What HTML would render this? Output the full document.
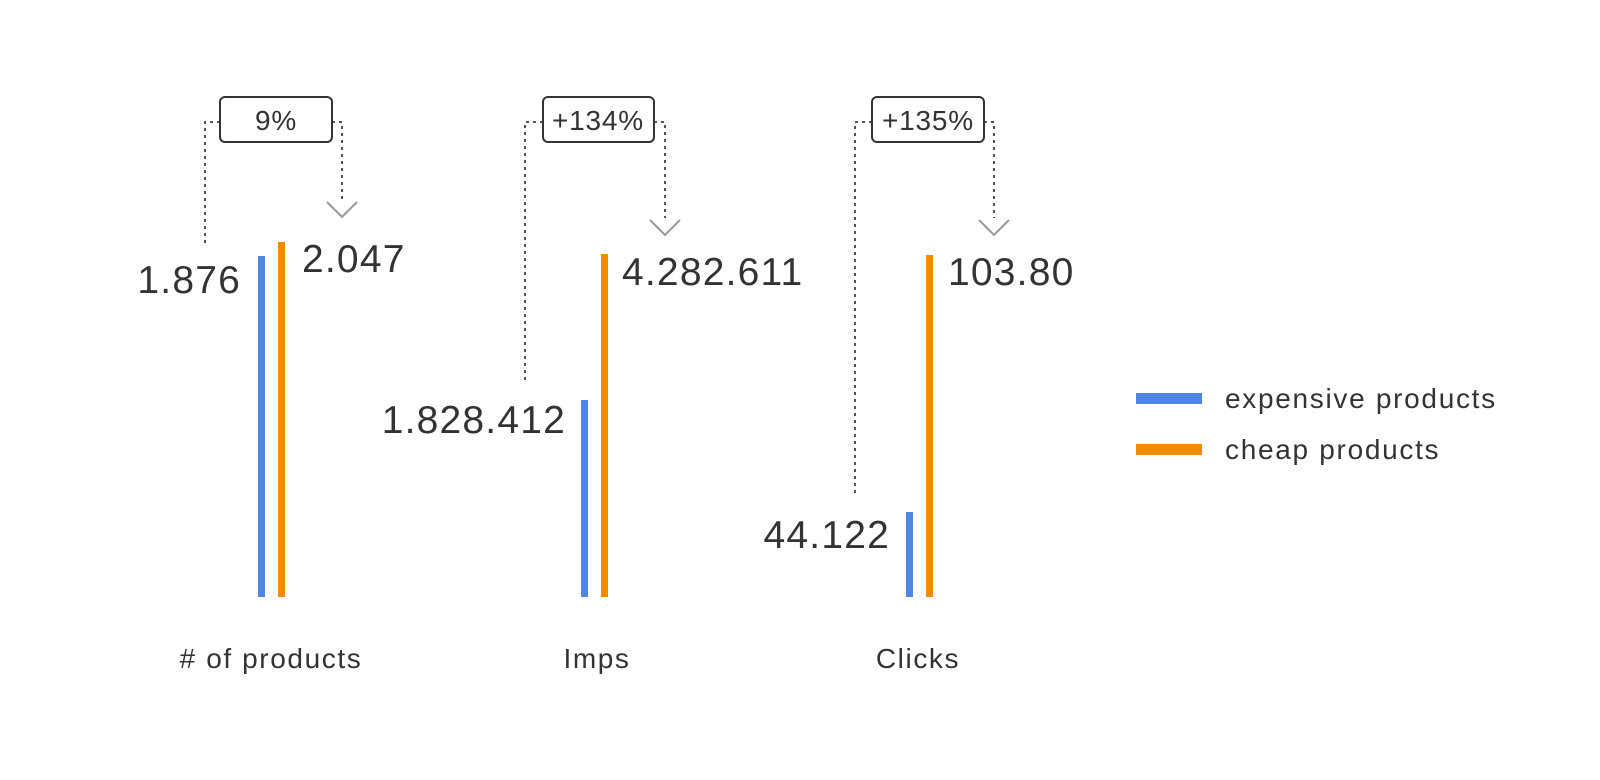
<!DOCTYPE html>
<html><head><meta charset="utf-8"><style>
html,body{margin:0;padding:0;background:#fff;}
svg{display:block;}
text{font-family:"Liberation Sans",sans-serif;fill:#333;}
</style></head><body>
<svg width="1600" height="780" viewBox="0 0 1600 780" xmlns="http://www.w3.org/2000/svg">
<g stroke="#555" stroke-width="2" fill="none" stroke-dasharray="3 4">
  <polyline points="220,122 205,122 205,247"/>
  <polyline points="332,122 342,122 342,200"/>
  <polyline points="543,122 525,122 525,380"/>
  <polyline points="654,122 665,122 665,218"/>
  <polyline points="872,122 855,122 855,497"/>
  <polyline points="984,122 994,122 994,218"/>
</g>
<g stroke="#999" stroke-width="2" fill="none">
  <polyline points="327,202 342,217 357,202"/>
  <polyline points="650,220 665,235 680,220"/>
  <polyline points="979,220 994,235 1009,220"/>
</g>
<g stroke="#333" stroke-width="2" fill="#fff">
  <rect x="220" y="97" width="112" height="45" rx="5"/>
  <rect x="543" y="97" width="111" height="45" rx="5"/>
  <rect x="872" y="97" width="112" height="45" rx="5"/>
</g>
<g font-size="28" text-anchor="middle" letter-spacing="0.8">
  <text x="276" y="130">9%</text>
  <text x="598" y="130">+134%</text>
  <text x="928" y="130">+135%</text>
</g>
<g>
  <rect x="258" y="256" width="7" height="341" fill="#4f86e0"/>
  <rect x="278" y="242" width="7" height="355" fill="#f28b00"/>
  <rect x="581" y="400" width="7" height="197" fill="#4f86e0"/>
  <rect x="601" y="254" width="7" height="343" fill="#f28b00"/>
  <rect x="906" y="512" width="7" height="85" fill="#4f86e0"/>
  <rect x="926" y="255" width="7" height="342" fill="#f28b00"/>
</g>
<g font-size="39" letter-spacing="1.2">
  <text x="241" y="293" text-anchor="end">1.876</text>
  <text x="302" y="272">2.047</text>
  <text x="566" y="433" text-anchor="end">1.828.412</text>
  <text x="622" y="285">4.282.611</text>
  <text x="890" y="548" text-anchor="end">44.122</text>
  <text x="948" y="285">103.80</text>
</g>
<g font-size="28" text-anchor="middle" letter-spacing="1.6">
  <text x="271" y="668"># of products</text>
  <text x="597" y="668">Imps</text>
  <text x="918" y="668">Clicks</text>
</g>
<rect x="1136" y="393" width="66" height="11" fill="#4f86e0"/>
<rect x="1136" y="444" width="66" height="11" fill="#f28b00"/>
<g font-size="28" letter-spacing="1.7">
  <text x="1225" y="408">expensive products</text>
  <text x="1225" y="459">cheap products</text>
</g>
</svg>
</body></html>
